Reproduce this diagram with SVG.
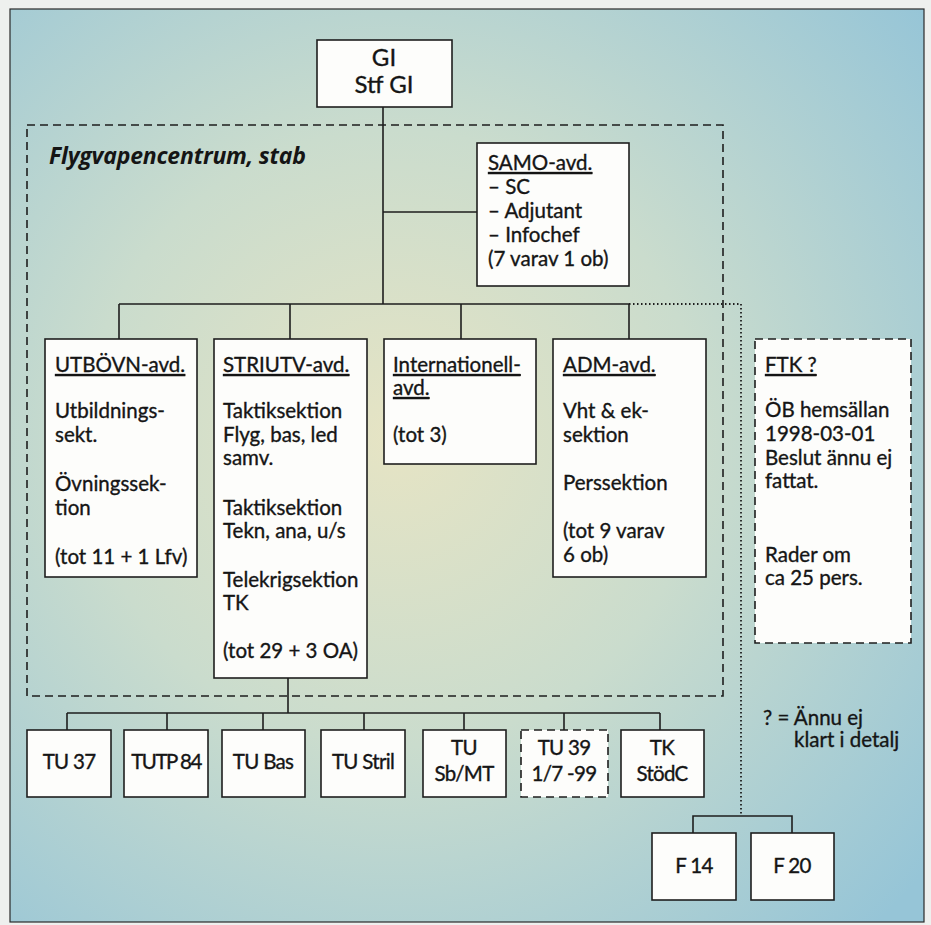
<svg xmlns="http://www.w3.org/2000/svg" width="931" height="925" viewBox="0 0 931 925">
<defs>
<radialGradient id="bg" cx="0.42" cy="0.47" r="0.75">
<stop offset="0" stop-color="#e6e4c4"/>
<stop offset="0.45" stop-color="#cadccd"/>
<stop offset="1" stop-color="#96c5d7"/>
</radialGradient>
<style>
.box{fill:#fdfdfb;stroke:#1e1e1e;stroke-width:1.6}
.dbox{fill:#fdfdfb;stroke:#1e1e1e;stroke-width:1.6;stroke-dasharray:8 5}
.con{fill:none;stroke:#1e1e1e;stroke-width:1.6}
.dot{fill:none;stroke:#1e1e1e;stroke-width:1.8;stroke-dasharray:1.5 2.5}
text{font-family:Lato,"Open Sans","Liberation Sans",sans-serif;font-size:20.5px;fill:#151515;stroke:#151515;stroke-width:0.35}
.u{text-decoration:underline}
.c{text-anchor:middle}
.big{font-size:24px}
.bl{font-size:20.5px;letter-spacing:-0.7px}
</style>
</defs>
<rect x="0" y="0" width="931" height="925" fill="#eef0ee"/>
<rect x="10" y="9" width="914" height="913" fill="url(#bg)" stroke="#2a2a2a" stroke-width="1.2"/>

<g id="stab">
<rect x="27" y="125" width="696" height="571" fill="none" stroke="#1e1e1e" stroke-width="1.6" stroke-dasharray="8 5"/>
<text x="49" y="164" style="font-family:'Open Sans',Lato,sans-serif;font-size:23px;font-weight:bold;font-style:italic;stroke-width:0;letter-spacing:-0.2px">Flygvapencentrum, stab</text>
</g>

<g id="connectors">
<path class="con" d="M383 107V304M383 212H477M119 304H629M119 304V339M290 304V339M461 304V339M629 304V339"/>
<path class="dot" d="M629 304H741V816"/>
<path class="con" d="M693 833V816H792V833"/>
<path class="con" d="M288 678V713M67 713H660M67 713V730M167 713V730M263 713V730M364 713V730M464 713V730M564 713V730M660 713V730"/>
</g>

<g id="gi">
<rect class="box" x="317" y="40" width="135" height="67"/>
<text class="c big" x="384" y="66">GI</text>
<text class="c big" x="384" y="93">Stf GI</text>
</g>

<g id="samo">
<rect class="box" x="477" y="143" width="152" height="143"/>
<text x="488" y="170" class="u">SAMO-avd.</text>
<text x="488" y="194">– SC</text>
<text x="488" y="218">– Adjutant</text>
<text x="488" y="242">– Infochef</text>
<text x="488" y="266">(7 varav 1 ob)</text>
</g>

<g id="utbovn">
<rect class="box" x="45" y="339" width="152" height="238"/>
<text x="55" y="372" class="u">UTBÖVN-avd.</text>
<text x="55" y="418">Utbildnings-</text>
<text x="55" y="442">sekt.</text>
<text x="55" y="491">Övningssek-</text>
<text x="55" y="515">tion</text>
<text x="55" y="564">(tot 11 + 1 Lfv)</text>
</g>

<g id="striutv">
<rect class="box" x="214" y="339" width="153" height="339"/>
<text x="223" y="372" class="u">STRIUTV-avd.</text>
<text x="223" y="418">Taktiksektion</text>
<text x="223" y="442">Flyg, bas, led</text>
<text x="223" y="465">samv.</text>
<text x="223" y="515">Taktiksektion</text>
<text x="223" y="538">Tekn, ana, u/s</text>
<text x="223" y="587">Telekrigsektion</text>
<text x="223" y="610">TK</text>
<text x="223" y="658">(tot 29 + 3 OA)</text>
</g>

<g id="internationell">
<rect class="box" x="384" y="339" width="152" height="125"/>
<text x="393" y="372" class="u">Internationell-</text>
<text x="393" y="395" class="u">avd.</text>
<text x="393" y="442">(tot 3)</text>
</g>

<g id="adm">
<rect class="box" x="553" y="339" width="153" height="238"/>
<text x="563" y="372" class="u">ADM-avd.</text>
<text x="563" y="418">Vht &amp; ek-</text>
<text x="563" y="442">sektion</text>
<text x="563" y="490">Perssektion</text>
<text x="563" y="538">(tot 9 varav</text>
<text x="563" y="562">6 ob)</text>
</g>

<g id="ftk">
<rect class="dbox" x="755" y="339" width="156" height="304"/>
<text x="765" y="372" class="u">FTK ?</text>
<text x="765" y="417">ÖB hemsällan</text>
<text x="765" y="441">1998-03-01</text>
<text x="765" y="465">Beslut ännu ej</text>
<text x="765" y="488">fattat.</text>
<text x="765" y="562">Rader om</text>
<text x="765" y="585">ca 25 pers.</text>
</g>

<g id="tu37"><rect class="box" x="27" y="730" width="84" height="67"/><text class="c bl" x="69" y="769">TU 37</text></g>
<g id="tutp84"><rect class="box" x="124" y="730" width="84" height="67"/><text class="c bl" x="166" y="769" style="letter-spacing:-1.5px">TUTP 84</text></g>
<g id="tubas"><rect class="box" x="222" y="730" width="83" height="67"/><text class="c bl" x="263" y="769">TU Bas</text></g>
<g id="tustril"><rect class="box" x="321" y="730" width="84" height="67"/><text class="c bl" x="363" y="769">TU Stril</text></g>
<g id="tusbmt"><rect class="box" x="423" y="730" width="83" height="67"/><text class="c bl" x="464" y="755">TU</text><text class="c bl" x="464" y="781">Sb/MT</text></g>
<g id="tu39"><rect class="dbox" x="521" y="730" width="87" height="67"/><text class="c bl" x="564" y="755">TU 39</text><text class="c bl" x="564" y="781">1/7 -99</text></g>
<g id="tkstodc"><rect class="box" x="621" y="730" width="83" height="67"/><text class="c bl" x="662" y="755">TK</text><text class="c bl" x="662" y="781">StödC</text></g>

<g id="f14"><rect class="box" x="652" y="833" width="84" height="67"/><text class="c bl" x="694" y="873">F 14</text></g>
<g id="f20"><rect class="box" x="751" y="833" width="83" height="67"/><text class="c bl" x="792" y="873">F 20</text></g>

<g id="legend">
<text x="763" y="725">? = Ännu ej</text>
<text x="794" y="747">klart i detalj</text>
</g>
</svg>
